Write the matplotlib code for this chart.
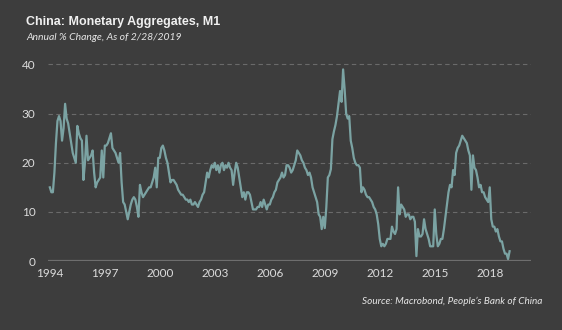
import numpy as np
import matplotlib
matplotlib.use("Agg")
import matplotlib.pyplot as plt

# China M1, annual % change, monthly from Jan 1994 to Feb 2019
start_year = 1994
m1_1994 = [15, 14, 14, 18, 24, 28.5, 29.5, 28.5, 24.5, 27, 32, 29]
m1_1995 = [28, 26, 24, 22, 21, 20, 27.5, 26, 25, 24.5, 16.5, 20]
m1_1996 = [25.5, 20.5, 21, 21.5, 22.5, 18, 15, 16, 16.5, 17, 22.5, 17]
m1_1997 = [23.5, 23.5, 24, 25, 26, 23, 22.5, 22, 21, 20, 22, 16]
m1_1998 = [12, 11.5, 10, 8.5, 10, 11.5, 12.5, 13, 12.5, 11, 9, 15.5]
m1_1999 = [14, 13, 13.5, 14, 14.5, 15, 15, 16, 17, 19, 15, 21]
m1_2000 = [21, 23, 23.5, 22.5, 21, 20, 18, 16, 16.5, 16.5, 16, 15.5]
m1_2001 = [14.5, 14, 13.5, 13.5, 13, 12.5, 12.5, 12, 12.5, 11.5, 11.5, 12]
m1_2002 = [11.5, 11, 12, 12.5, 13.5, 14, 16, 18, 17, 18.5, 19.5, 19]
m1_2003 = [20, 18.5, 19.5, 18, 19.5, 20, 18.5, 19.5, 19, 20, 19, 18.5]
m1_2004 = [15.5, 18, 20, 19, 17, 15, 13, 14, 12.5, 14, 14, 13.5]
m1_2005 = [12, 10.5, 10.5, 10.5, 11, 11, 12, 11, 12.5, 11.5, 10.5, 11.5]
m1_2006 = [11.5, 12.5, 13, 14, 14.5, 16, 16.5, 17, 18, 17, 17.5, 19.5]
m1_2007 = [19.5, 19, 18, 18.5, 19.5, 20.5, 22.5, 22, 21.5, 20.5, 20, 19]
m1_2008 = [18.5, 17.5, 18, 17, 15, 14, 13, 12, 9.5, 9, 6.5, 9]
m1_2009 = [6.7, 10.9, 17, 17.5, 18.7, 24.8, 26.4, 27.7, 29.5, 32, 34.6, 32.4]
m1_2010 = [39, 35, 30, 29, 29.5, 24.5, 23, 21, 20, 19.5, 19.5, 19]
m1_2011 = [14, 15, 14.5, 13.5, 13, 13, 12.5, 12, 11, 10.5, 9.5, 7.5]
m1_2012 = [4.5, 3, 3.5, 3, 3.5, 4.5, 4.5, 4.5, 7, 6, 5.5, 6.5]
m1_2013 = [15, 9.5, 11.5, 11, 10.5, 9, 9.5, 9.5, 8.5, 9, 9, 8]
m1_2014 = [1, 6.5, 5, 5, 5.5, 8.5, 6.5, 5.5, 4.5, 3, 3, 3]
m1_2015 = [10.5, 5.5, 3, 3.5, 4.5, 4.5, 6.5, 9, 11.5, 14, 15.5, 15]
m1_2016 = [18.5, 17.5, 22, 23, 23.5, 24.5, 25.5, 25, 24.5, 24, 22.5, 21.5]
m1_2017 = [14.5, 21.5, 19, 18.5, 17, 15, 15.5, 14, 14, 13, 12.5, 12]
m1_2018 = [15, 8.5, 7, 7, 6, 6.5, 5, 4, 4, 2.5, 1.5, 1.5]
m1_2019 = [0.4, 2]

year_ticks = [1994, 1997, 2000, 2003, 2006, 2009, 2012, 2015, 2018]
y_ticks = [0, 10, 20, 30, 40]

m1 = (m1_1994 + m1_1995 + m1_1996 + m1_1997 + m1_1998 + m1_1999 + m1_2000
      + m1_2001 + m1_2002 + m1_2003 + m1_2004 + m1_2005 + m1_2006 + m1_2007
      + m1_2008 + m1_2009 + m1_2010 + m1_2011 + m1_2012 + m1_2013 + m1_2014
      + m1_2015 + m1_2016 + m1_2017 + m1_2018 + m1_2019)
x = start_year + np.arange(len(m1)) / 12

bg = "#3d3d3d"
fig = plt.figure(figsize=(5.62, 3.30), dpi=100, facecolor=bg)
ax = fig.add_axes([0.0854, 0.209, 0.8594, 0.603], facecolor=bg)

ax.plot(x, m1, color="#7ba3a3", lw=1.6, zorder=3)

ax.set_xlim(1993.9, 2020.25)
ax.set_ylim(0, 40.5)
ax.set_xticks(year_ticks)
ax.set_yticks(y_ticks)
for v in y_ticks[1:]:
    ax.axhline(v, color="#6a6a6a", lw=0.8, ls=(0, (4, 3)), zorder=1)
ax.axhline(0, color="#6e6e6e", lw=1.6, zorder=2)

for s in ax.spines.values():
    s.set_visible(False)
ax.tick_params(length=0, colors="#dcdcdc", labelsize=8.5, pad=5)
ax.tick_params(axis="y", pad=9)
for lab in ax.get_xticklabels() + ax.get_yticklabels():
    lab.set_family("Lato")

fig.text(0.046, 0.933, "China: Monetary Aggregates, M1", color="#f0f0f0",
         fontsize=9, fontweight="bold", family="Liberation Sans", va="center")
fig.text(0.046, 0.885, "Annual % Change, As of 2/28/2019", color="#e6e6e6",
         fontsize=7.5, style="italic", family="Lato", va="center")
fig.text(0.965, 0.086, "Source: Macrobond, People\u2019s Bank of China", color="#e6e6e6",
         fontsize=7.2, style="italic", family="Lato", va="center", ha="right")

fig.savefig("out.png", dpi=100, facecolor=bg)
